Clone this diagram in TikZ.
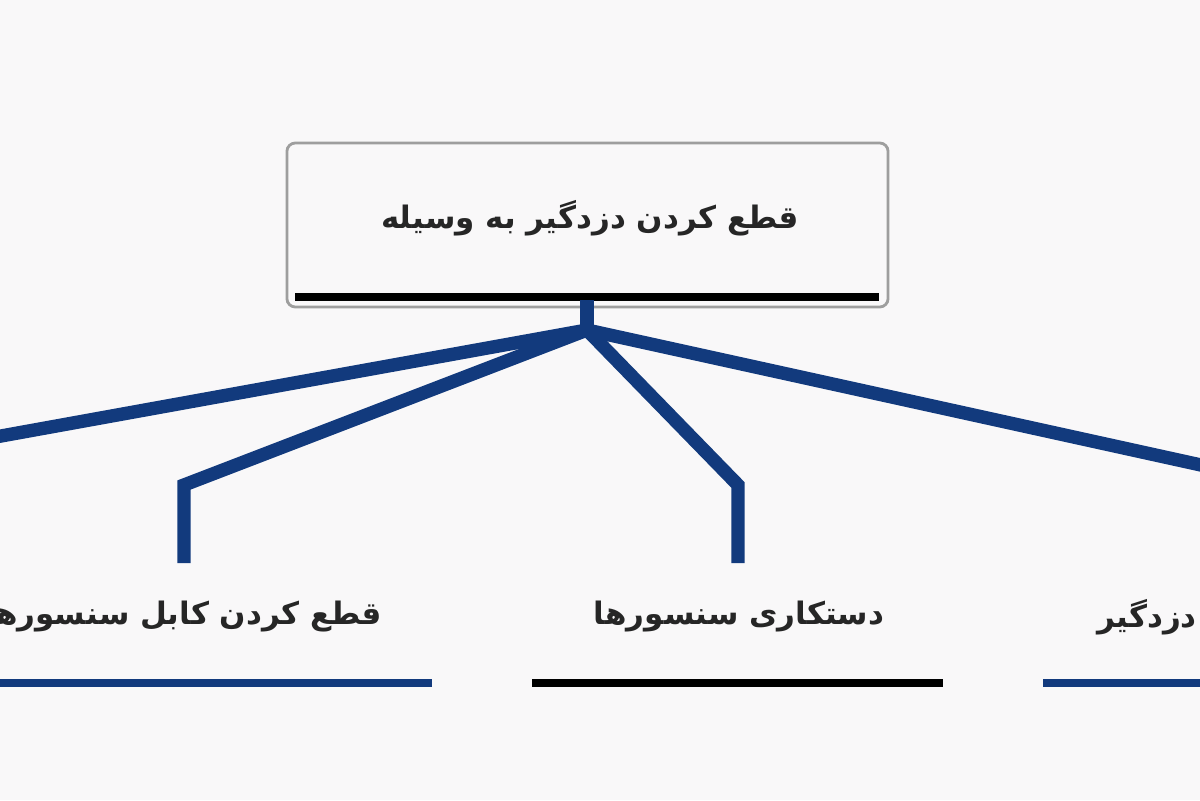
\documentclass[tikz,border=0pt]{standalone}
\usepackage{fontspec}
\newfontfamily\arabicfont[Script=Arabic]{DejaVu Sans}
\TeXXeTstate=1
\usetikzlibrary{positioning}
\definecolor{navy}{RGB}{18,58,125}
\definecolor{paper}{RGB}{249,248,249}
\definecolor{frame}{RGB}{158,158,158}

\begin{document}
\begin{tikzpicture}[x=0.025cm, y=-0.025cm,
    branch/.style={draw=navy, line width=9.5pt, line join=miter},
    leaf/.style={font=\arabicfont\bfseries\fontsize{22}{26}\selectfont, inner sep=0pt, text=black!85},
    barline/.style={line width=5pt}]
    \fill [paper] (0,0) rectangle (1200,800);
    \clip (0,0) rectangle (1200,800);
    \node (top) [draw=frame, line width=2pt, rounded corners=6pt, minimum width=15.025cm, minimum height=4.1cm] at (587.5,225) {};
    \node (toptext) [leaf] at (590,218) {\beginR قطع کردن دزدگیر به وسیله\endR};
    \coordinate (barL) at (295,297);
    \coordinate (barR) at (879,297);
    \draw [barline, black] (barL) -- (barR);
    \coordinate (stub) at (587,300);
    \coordinate (hub) at (587,330);
    \coordinate (farL) at (-10,438);
    \coordinate (farR) at (1210,467);
    \coordinate (kneeL) at (184,485);
    \coordinate (kneeM) at (738,485);
    \coordinate (endL) at (184,563);
    \coordinate (endM) at (738,563);
    \draw [branch] (stub) -- (hub);
    \draw [branch] (farL) -- (hub) -- (farR);
    \draw [branch] (endL) -- (kneeL) -- (hub) -- (kneeM) -- (endM);
    \node (cutcable) [leaf, anchor=east] at (382,617) {\beginR قطع کردن کابل سنسورها\endR};
    \node (tamper) [leaf] at (739,617) {\beginR دستکاری سنسورها\endR};
    \node (alarm) [leaf, anchor=west] at (1097,617) {\beginR دزدگیر\endR};
    \draw [barline, navy] (0,683) -- (432,683);
    \draw [barline, black] (532,683) -- (943,683);
    \draw [barline, navy] (1043,683) -- (1200,683);
\end{tikzpicture}
\end{document}
